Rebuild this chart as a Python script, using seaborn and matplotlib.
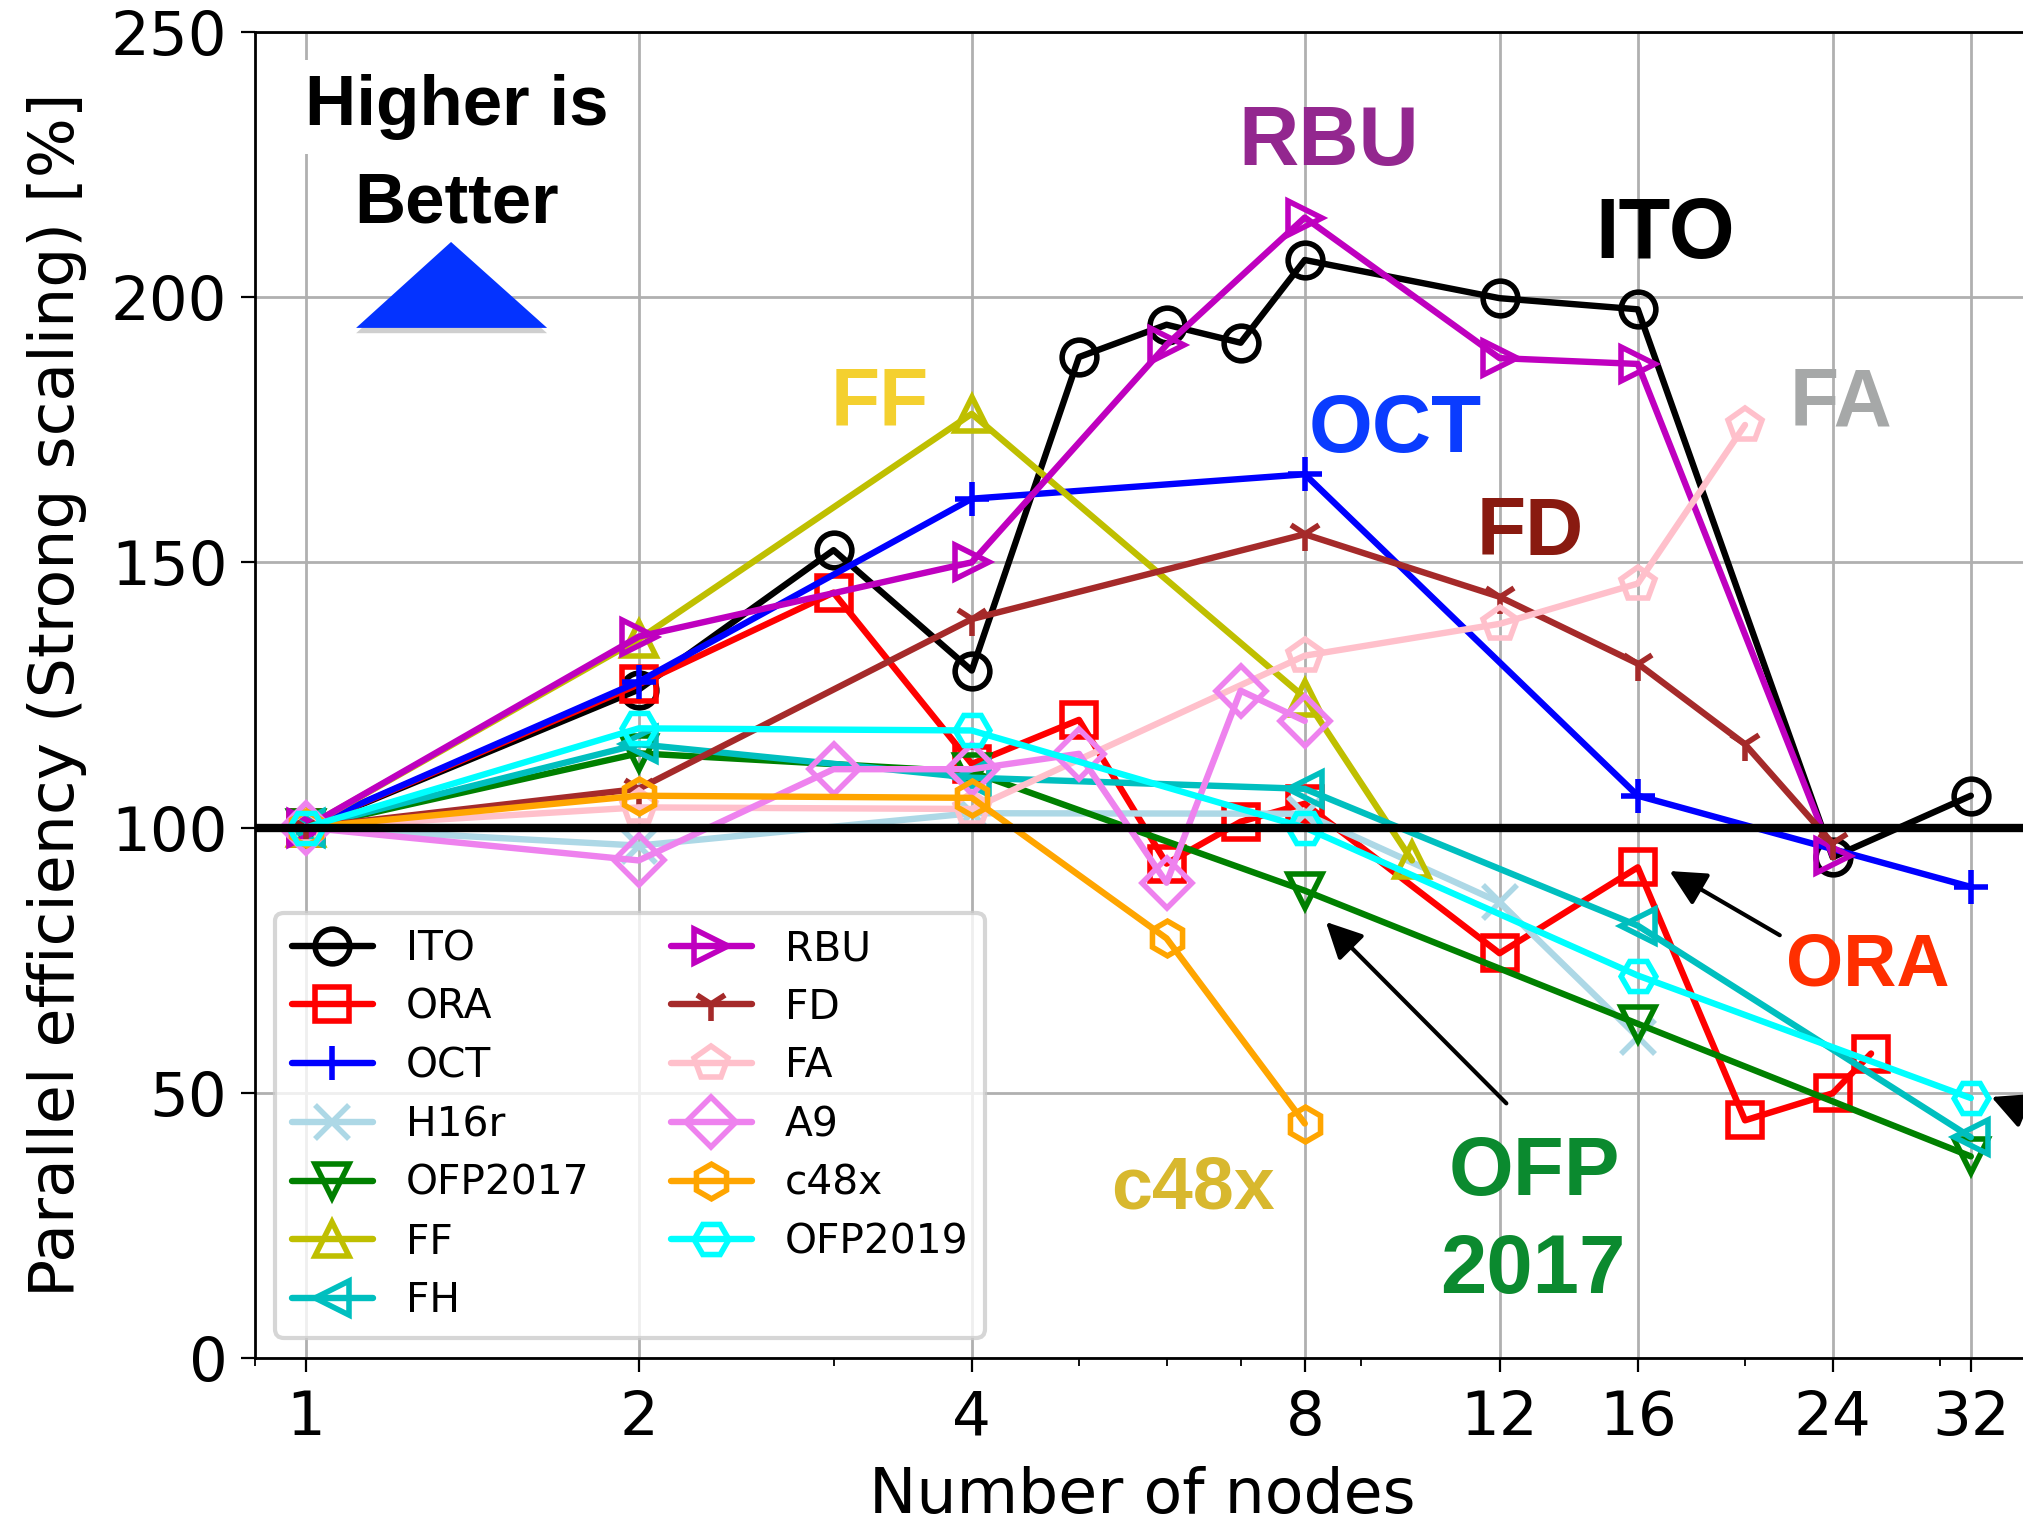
# ============================================
# PARALLEL EFFICIENCY (STRONG SCALING) CHART
# ============================================

import matplotlib
matplotlib.use("Agg")
import matplotlib.pyplot as plt
from matplotlib.patches import Polygon
from matplotlib.ticker import NullFormatter
import seaborn as sns

# ============================================
# DATA: nodes and parallel efficiency [%]
# ============================================

ito_nodes = [1, 2, 3, 4, 5, 6, 7, 8, 12, 16, 24, 32]
ito_eff = [100, 126, 152.3, 129.6, 188.7, 194.8, 191.4, 207, 199.8, 197.7, 94.4, 106]

ora_nodes = [1, 2, 3, 4, 5, 6, 7, 8, 12, 16, 20, 24, 26]
ora_eff = [100, 127, 144.3, 112, 120.3, 93.2, 101.1, 104.5, 76.3, 92.5, 44.8, 49.9, 57.4]

oct_nodes = [1, 2, 4, 8, 16, 32]
oct_eff = [100, 127.5, 162, 166.6, 106, 88.8]

h16r_nodes = [1, 2, 4, 8, 12, 16]
h16r_eff = [100, 96.6, 102.7, 102.6, 85.9, 60.5]

ofp2017_nodes = [1, 2, 4, 8, 16, 32]
ofp2017_eff = [100, 114, 110.5, 88.1, 63, 38]

ff_nodes = [1, 2, 4, 8, 10]
ff_eff = [100, 135.5, 178, 124.5, 93.8]

fh_nodes = [1, 2, 4, 8, 16, 32]
fh_eff = [100, 115.7, 109.4, 107.3, 81.5, 41.6]

rbu_nodes = [1, 2, 4, 6, 8, 12, 16, 24]
rbu_eff = [100, 136, 150, 191, 215, 188.5, 187.4, 94.7]

fd_nodes = [1, 2, 4, 8, 12, 16, 20, 24]
fd_eff = [100, 107.3, 139.3, 155.3, 143.5, 130.9, 115.7, 97]

fa_nodes = [1, 2, 4, 8, 12, 16, 20]
fa_eff = [100, 103.8, 103.5, 132.4, 138.4, 146, 175.9]

a9_nodes = [1, 2, 3, 4, 5, 6, 7, 8]
a9_eff = [100, 93.8, 111, 111, 113.9, 89.6, 125.8, 120.1]

c48x_nodes = [1, 2, 4, 6, 8]
c48x_eff = [100, 106, 105.6, 79.1, 44.2]

ofp2019_nodes = [1, 2, 4, 8, 16, 32]
ofp2019_eff = [100, 118.7, 118.3, 100, 72.1, 49]

tick_nodes = [1, 2, 4, 8, 12, 16, 24, 32]

# name, nodes, values, colour, marker
series = [
    ("ITO", ito_nodes, ito_eff, "black", "o"),
    ("ORA", ora_nodes, ora_eff, "red", "s"),
    ("OCT", oct_nodes, oct_eff, "blue", "+"),
    ("H16r", h16r_nodes, h16r_eff, "lightblue", "x"),
    ("OFP2017", ofp2017_nodes, ofp2017_eff, "green", "v"),
    ("FF", ff_nodes, ff_eff, "y", "^"),
    ("FH", fh_nodes, fh_eff, "c", "<"),
    ("RBU", rbu_nodes, rbu_eff, "m", ">"),
    ("FD", fd_nodes, fd_eff, "brown", "1"),
    ("FA", fa_nodes, fa_eff, "pink", "p"),
    ("A9", a9_nodes, a9_eff, "violet", "D"),
    ("c48x", c48x_nodes, c48x_eff, "orange", "h"),
    ("OFP2019", ofp2019_nodes, ofp2019_eff, "cyan", "H"),
]

LINE_W = 4.6
EDGE_W = 4.0

# ============================================
# STYLE
# ============================================

sns.set_style("ticks", {
    "text.color": "black",
    "axes.labelcolor": "black",
    "axes.edgecolor": "black",
    "xtick.color": "black",
    "ytick.color": "black",
})
plt.rcParams["font.family"] = ["DejaVu Sans"]

fig, ax = plt.subplots(figsize=(20.23, 15.27), dpi=100)
ax.set_position([0.1261, 0.1107, 0.8774, 0.8684])
ax.set_xscale("log")

# ============================================
# LINES
# ============================================

for name, nodes, eff, color, marker in series:
    sns.lineplot(
        x=nodes,
        y=eff,
        ax=ax,
        color=color,
        marker=marker,
        markersize=25,
        markerfacecolor="none",
        markeredgecolor=color,
        markeredgewidth=EDGE_W,
        linewidth=LINE_W,
        errorbar=None,
        label=name,
    )

# make sure the widths stick on every drawn line
for line in ax.get_lines():
    line.set_linewidth(LINE_W)
    line.set_markeredgewidth(EDGE_W)

ax.axhline(100, color="black", linewidth=6, zorder=5)

# ============================================
# AXES
# ============================================

ax.set_xlim(0.9, 36.2)
ax.set_ylim(0, 250)
ax.set_xticks(tick_nodes)
ax.set_xticklabels([str(n) for n in tick_nodes])
ax.xaxis.set_minor_formatter(NullFormatter())
ax.set_yticks([0, 50, 100, 150, 200, 250])

ax.grid(True, which="major", color="#b0b0b0", linewidth=2)
ax.set_axisbelow(True)

ax.tick_params(which="major", direction="out", length=10, width=1.6,
               labelsize=44, color="black", labelcolor="black")
ax.tick_params(axis="x", which="major", pad=12)
ax.tick_params(axis="y", which="major", pad=10)
ax.tick_params(which="minor", direction="out", length=6, width=1.3, color="black")

for side in ["left", "bottom", "top", "right"]:
    ax.spines[side].set_color("black")
    ax.spines[side].set_linewidth(2)

ax.set_xlabel("Number of nodes", fontsize=45.5, labelpad=13)
ax.set_ylabel("Parallel efficiency (Strong scaling) [%]", fontsize=45.5, labelpad=17)

leg = ax.legend(ncol=2, loc="lower left", fontsize=29.3, labelspacing=0.46,
                framealpha=0.8, edgecolor="0.8", fancybox=True)
leg.get_frame().set_linewidth(3)
leg.set_zorder(6)

# ============================================
# ANNOTATIONS
# ============================================

box = dict(boxstyle="square,pad=0.2", fc="white", ec="none")
ax.text(1.369, 232.5, "Higher is", ha="center", va="baseline", fontsize=51,
        fontweight="bold", family="Liberation Sans", color="black", bbox=box, zorder=4)
ax.text(1.369, 214.0, "Better", ha="center", va="baseline", fontsize=51,
        fontweight="bold", family="Liberation Sans", color="black", bbox=box, zorder=4)

shadow = Polygon([(0.1104, 0.8376), (0.0569, 0.7728), (0.1645, 0.7728)],
                 closed=True, transform=ax.transAxes, fc="#777777", ec="none",
                 alpha=0.35, zorder=3)
tri = Polygon([(0.1104, 0.8416), (0.0569, 0.7768), (0.1645, 0.7768)],
              closed=True, transform=ax.transAxes, fc="#0433FF", ec="none", zorder=4)
ax.add_patch(shadow)
ax.add_patch(tri)

labels = [
    ("RBU", 8.41, 225.0, "#93278F", 60),
    ("ITO", 16.93, 207.3, "black", 61),
    ("FF", 3.30, 175.8, "#F4D02F", 58),
    ("OCT", 9.65, 170.8, "#0A3CFF", 59),
    ("FA", 24.4, 175.8, "#A6A8A8", 58),
    ("FD", 12.8, 151.4, "#891A10", 58),
    ("ORA", 25.8, 70.2, "#FF2F00", 53),
    ("OFP", 12.9, 30.7, "#0B8A2F", 60),
    ("2017", 12.85, 12.2, "#0B8A2F", 60),
    ("c48x", 6.34, 28.1, "#D8B82E", 53),
]
for text, x, y, color, size in labels:
    ax.text(x, y, text, ha="center", va="baseline", fontsize=size,
            fontweight="bold", family="Liberation Sans", color=color, zorder=7)

arrow = dict(arrowstyle="-|>", color="black", lw=3, mutation_scale=55,
             shrinkA=0, shrinkB=0)
ax.annotate("", xy=(8.36, 82.2), xytext=(12.17, 48.0), arrowprops=arrow, zorder=7)
ax.annotate("", xy=(17.09, 91.8), xytext=(21.5, 79.7), arrowprops=arrow, zorder=7)
ax.annotate("", xy=(33.4, 49.2), xytext=(38.5, 43.9), arrowprops=arrow, zorder=7)

fig.savefig("out.png", dpi=100)
print("Saved out.png")
